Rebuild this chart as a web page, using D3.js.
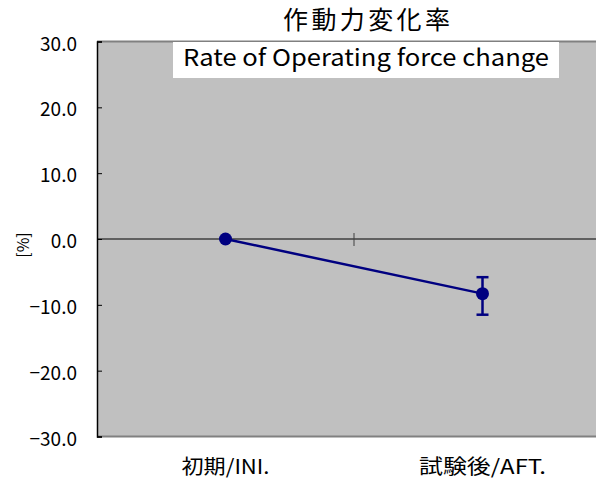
<!DOCTYPE html>
<html>
<head>
<meta charset="utf-8">
<script src="https://cdn.jsdelivr.net/npm/d3@7/dist/d3.min.js"></script>
<style>
  html, body { margin: 0; padding: 0; background: #fff; }
  svg { display: block; }
  text { font-family: "Noto Sans CJK JP", "Noto Sans", sans-serif; fill: #000; }
</style>
</head>
<body>
<svg id="chart" width="596" height="480"></svg>
<script>
// Categories and measured values (percent change of operating force)
const categories = ["初期/INI.", "試験後/AFT."];
const values = [0.0, -8.3];
const errHigh = [null, -5.8];
const errLow = [null, -11.5];
const yTicks = [30, 20, 10, 0, -10, -20, -30];

const title = "作動力変化率";
const subtitle = "Rate of Operating force change";
const yLabel = "[%]";

const svg = d3.select("#chart");
const W = 596, H = 480;
const plot = { left: 97, top: 41.5, bottom: 436.5, right: 611 };

const x = d3.scalePoint()
  .domain(categories)
  .range([plot.left, plot.right])
  .padding(0.5);

const y = d3.scaleLinear()
  .domain([-30, 30])
  .range([plot.bottom, plot.top]);

// plot background
svg.append("rect")
  .attr("x", plot.left).attr("y", plot.top)
  .attr("width", plot.right - plot.left)
  .attr("height", plot.bottom - plot.top)
  .attr("fill", "#c0c0c0");

// plot frame (top and bottom edges)
svg.append("line")
  .attr("x1", plot.left).attr("x2", W)
  .attr("y1", plot.top).attr("y2", plot.top)
  .attr("stroke", "#808080").attr("stroke-width", 2);
svg.append("line")
  .attr("x1", plot.left).attr("x2", W)
  .attr("y1", plot.bottom).attr("y2", plot.bottom)
  .attr("stroke", "#808080").attr("stroke-width", 2);

// y axis with inner ticks
const yAxis = d3.axisRight(y)
  .tickValues(yTicks)
  .tickSize(5)
  .tickFormat("");
const gy = svg.append("g")
  .attr("transform", `translate(${plot.left},0)`)
  .call(yAxis);
gy.select(".domain").attr("stroke", "#000").attr("stroke-width", 1.5);
gy.selectAll(".tick line").attr("stroke", "#000");

// y tick labels
svg.append("g").selectAll("text")
  .data(yTicks)
  .join("text")
  .attr("x", 77)
  .attr("y", d => y(d) + 9)
  .attr("text-anchor", "end")
  .attr("font-size", 19)
  .text(d => d3.format(".1f")(d).replace("-", "\u2212"));

// zero line (category axis) with ticks between categories
svg.append("line")
  .attr("x1", plot.left).attr("x2", W)
  .attr("y1", y(0)).attr("y2", y(0))
  .attr("stroke", "#000").attr("stroke-width", 1);
const step = x.step();
const sepTicks = categories.slice(1).map(c => x(c) - step / 2);
svg.append("g").selectAll("line")
  .data(sepTicks)
  .join("line")
  .attr("x1", d => d).attr("x2", d => d)
  .attr("y1", y(0) - 6).attr("y2", y(0) + 7)
  .attr("stroke", "#404040").attr("stroke-width", 1);

// category labels
const catWidths = [88, 127];
svg.append("g").selectAll("text")
  .data(categories)
  .join("text")
  .attr("x", d => x(d))
  .attr("y", 474)
  .attr("text-anchor", "middle")
  .attr("font-size", 20)
  .attr("textLength", (d, i) => catWidths[i])
  .attr("lengthAdjust", "spacingAndGlyphs")
  .text(d => d);

// y label
svg.append("text")
  .attr("transform", `translate(29,${y(0) + 6}) rotate(-90)`)
  .attr("text-anchor", "middle")
  .attr("font-size", 16)
  .text(yLabel);

// series line
const pts = categories.map((c, i) => ({ c, v: values[i], hi: errHigh[i], lo: errLow[i] }));
svg.append("path")
  .datum(pts)
  .attr("fill", "none")
  .attr("stroke", "#000080")
  .attr("stroke-width", 2.5)
  .attr("d", d3.line().x(d => x(d.c)).y(d => y(d.v)));

// error bars
const eb = svg.append("g").attr("stroke", "#000080").attr("stroke-width", 2.5);
pts.filter(d => d.hi !== null).forEach(d => {
  eb.append("line").attr("x1", x(d.c)).attr("x2", x(d.c))
    .attr("y1", y(d.hi)).attr("y2", y(d.lo));
  [d.hi, d.lo].forEach(v => {
    eb.append("line").attr("x1", x(d.c) - 6).attr("x2", x(d.c) + 6)
      .attr("y1", y(v)).attr("y2", y(v));
  });
});

// markers
svg.append("g").selectAll("circle")
  .data(pts)
  .join("circle")
  .attr("cx", d => x(d.c))
  .attr("cy", d => y(d.v))
  .attr("r", 6.5)
  .attr("fill", "#000080");

// title
svg.append("text")
  .attr("x", 283)
  .attr("y", 29)
  .attr("font-size", 25)
  .attr("font-weight", 400)
  .attr("textLength", 167)
  .attr("lengthAdjust", "spacing")
  .text(title);

// subtitle box
const sub = svg.append("g");
sub.append("rect")
  .attr("x", 173).attr("y", 42)
  .attr("width", 386).attr("height", 36)
  .attr("fill", "#fff");
sub.append("text")
  .attr("x", 183)
  .attr("y", 66)
  .attr("font-size", 23)
  .attr("textLength", 366)
  .attr("lengthAdjust", "spacingAndGlyphs")
  .text(subtitle);
</script>
</body>
</html>
